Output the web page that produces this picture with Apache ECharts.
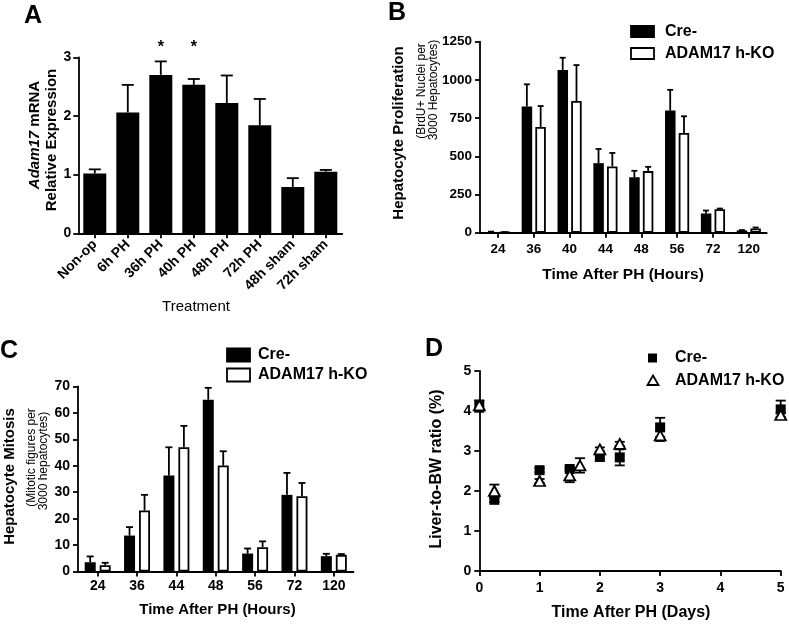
<!DOCTYPE html>
<html>
<head>
<meta charset="utf-8">
<script src="https://cdn.jsdelivr.net/npm/echarts@6/dist/echarts.min.js"></script>
<style>html,body{margin:0;padding:0;background:#fff}#c{width:789px;height:625px}</style>
</head>
<body>
<div id="c"></div>
<script>
// Panel A
const catsA = ['Non-op','6h PH','36h PH','40h PH','48h PH','72h PH','48h sham','72h sham'];
const meanA = [1.02,2.06,2.70,2.53,2.22,1.84,0.79,1.05];
const errTopA = [1.09,2.53,2.93,2.63,2.69,2.29,0.94,1.08];
const starA = ['','','*','*','','','',''];
const ticksA = [0,1,2,3];
// Panel B
const catsB = ['24','36','40','44','48','56','72','120'];
const creB = [5,826,1065,455,363,800,126,15];
const creBTop = [7,971,1145,548,405,935,145,17];
const koB = [3,692,862,434,403,652,154,28];
const koBTop = [4,829,1097,522,431,762,158,34];
// Panel C
const catsC = ['24','36','44','48','56','72','120'];
const creC = [3.5,13.6,36.3,65.0,6.8,29.0,5.8];
const creCTop = [5.7,16.8,47.0,69.5,8.7,37.3,6.7];
const koC = [2.4,23.1,47.0,40.1,9.2,28.5,6.3];
const koCTop = [3.3,29.0,55.1,45.5,11.4,33.5,6.6];
// Panel D
const daysCre = [0,0.25,1,1.5,2,2.33,3,5];
const creD = [4.12,1.78,2.52,2.55,2.86,2.84,3.59,4.04];
const creDErr = [0.14,0.05,0.05,0.05,0.11,0.2,0.24,0.22];
const daysKO = [0,0.25,1,1.5,1.67,2,2.33,3,5];
const koD = [4.14,2.0,2.25,2.39,2.64,3.04,3.18,3.39,3.9];
const koDErr = [0.12,0.16,0.05,0.17,0.18,0.05,0.05,0.14,0.05];

const FF = '"Liberation Sans", Arial, Helvetica, sans-serif';
const LW = 1.8;

function lbl(size, extra) {
  return Object.assign({color:'#000', fontFamily:FF, fontWeight:'bold', fontSize:size}, extra||{});
}
function catX(grid, data, size, extra) {
  return {type:'category', gridIndex:grid, data:data,
    axisLine:{show:true, lineStyle:{color:'#000', width:LW}},
    axisTick:{show:true, alignWithLabel:true, length:5, lineStyle:{color:'#000', width:LW}},
    axisLabel:lbl(size, Object.assign({interval:0}, extra||{})),
    splitLine:{show:false}};
}
function valAxis(grid, min, max, interval, size, margin) {
  return {type:'value', gridIndex:grid, min:min, max:max, interval:interval,
    axisLine:{show:true, onZero:false, lineStyle:{color:'#000', width:LW}},
    axisTick:{show:true, length:5, lineStyle:{color:'#000', width:LW}},
    axisLabel:lbl(size, {margin:margin, formatter:(v)=>String(v)}),
    splitLine:{show:false}};
}
function upErr(gi, means, tops, offset, cap) {
  return {type:'custom', xAxisIndex:gi, yAxisIndex:gi, z:5,
    data: means.map((m,i)=>[i, m, tops[i]]),
    renderItem:(params, api)=>{
      const p0 = api.coord([api.value(0), api.value(1)]);
      const p1 = api.coord([api.value(0), api.value(2)]);
      const cx = p0[0] + offset;
      return {type:'group', children:[
        {type:'line', shape:{x1:cx, y1:p0[1], x2:cx, y2:p1[1]}, style:{stroke:'#000', lineWidth:LW}},
        {type:'line', shape:{x1:cx-cap/2, y1:p1[1], x2:cx+cap/2, y2:p1[1]}, style:{stroke:'#000', lineWidth:LW}}
      ]};
    }};
}
function symErr(gi, xs, means, errs, cap) {
  return {type:'custom', xAxisIndex:gi, yAxisIndex:gi, z:2,
    data: means.map((m,i)=>[xs[i], m, errs[i]]),
    renderItem:(params, api)=>{
      const x = api.value(0), m = api.value(1), e = api.value(2);
      const pt = api.coord([x, m+e]), pb = api.coord([x, m-e]);
      const cx = pt[0];
      const st = {stroke:'#000', lineWidth:LW};
      return {type:'group', children:[
        {type:'line', shape:{x1:cx, y1:pt[1], x2:cx, y2:pb[1]}, style:st},
        {type:'line', shape:{x1:cx-cap/2, y1:pt[1], x2:cx+cap/2, y2:pt[1]}, style:st},
        {type:'line', shape:{x1:cx-cap/2, y1:pb[1], x2:cx+cap/2, y2:pb[1]}, style:st}
      ]};
    }};
}
function txt(x, y, text, size, weight, rot, extra) {
  const st = Object.assign({text:text, fontFamily:FF, fontSize:size, fontWeight:weight||'normal', fill:'#000',
    align:'center', verticalAlign:'middle', textAlign:'center', textVerticalAlign:'middle'}, extra||{});
  return {type:'text', x:x, y:y, rotation:rot||0, style:st, z:10};
}
function ltxt(x, y, text, size) {
  return txt(x, y, text, size, 'bold', 0, {align:'left', textAlign:'left'});
}
function rect(x, y, w, h, fill) {
  return {type:'rect', shape:{x:x, y:y, width:w, height:h}, style:{fill:fill, stroke:'#000', lineWidth:LW}, z:10};
}
const R = Math.PI/2;

const option = {
  animation:false,
  backgroundColor:'#fff',
  grid:[
    {left:78.3, top:57.3, width:264, height:176},
    {left:480, top:41.7, width:286.7, height:191},
    {left:78, top:386.5, width:275.5, height:185},
    {left:479.3, top:371, width:301.4, height:200}
  ],
  xAxis:[
    catX(0, catsA, 14, {rotate:45, margin:9}),
    catX(1, catsB, 13.5, {margin:10}),
    catX(2, catsC, 14, {margin:8}),
    valAxis(3, 0, 5, 1, 14, 10)
  ],
  yAxis:[
    valAxis(0, ticksA[0], ticksA[ticksA.length-1], 1, 14, 7),
    valAxis(1, 0, 1250, 250, 13.5, 8),
    valAxis(2, 0, 70, 10, 14, 8),
    valAxis(3, 0, 5, 1, 14, 8)
  ],
  series:[
    {type:'bar', name:'A', xAxisIndex:0, yAxisIndex:0, data:meanA, barWidth:23,
      itemStyle:{color:'#000'}, z:3},
    upErr(0, meanA, errTopA, 0, 12),
    {type:'custom', xAxisIndex:0, yAxisIndex:0, z:6, clip:false,
      data: errTopA.map((t,i)=>[i, 3.17, starA[i]]),
      renderItem:(params, api)=>{
        const i = params.dataIndex;
        if (!starA[i]) return null;
        const p = api.coord([api.value(0), api.value(1)]);
        return {type:'text', x:p[0], y:p[1], style:{text:starA[i], fontFamily:FF, fontSize:16, fontWeight:'bold', fill:'#000',
          align:'center', verticalAlign:'middle', textAlign:'center', textVerticalAlign:'middle'}};
      }},
    {type:'bar', name:'Cre-', xAxisIndex:1, yAxisIndex:1, data:creB, barWidth:10.5, barGap:'30%',
      itemStyle:{color:'#000', borderColor:'#000', borderWidth:0}, z:3},
    {type:'bar', name:'ADAM17 h-KO', xAxisIndex:1, yAxisIndex:1, data:koB, barWidth:10.5, barGap:'30%',
      itemStyle:{color:'#fff', borderColor:'#000', borderWidth:LW}, z:3},
    upErr(1, creB, creBTop, -6.9, 6),
    upErr(1, koB, koBTop, 6.9, 6),
    {type:'bar', name:'Cre-', xAxisIndex:2, yAxisIndex:2, data:creC, barWidth:11, barGap:'36%',
      itemStyle:{color:'#000'}, z:3},
    {type:'bar', name:'ADAM17 h-KO', xAxisIndex:2, yAxisIndex:2, data:koC, barWidth:11, barGap:'36%',
      itemStyle:{color:'#fff', borderColor:'#000', borderWidth:LW}, z:3},
    upErr(2, creC, creCTop, -7.5, 7),
    upErr(2, koC, koCTop, 7.5, 7),
    symErr(3, daysCre, creD, creDErr, 10),
    symErr(3, daysKO, koD, koDErr, 10),
    {type:'scatter', name:'Cre-', xAxisIndex:3, yAxisIndex:3, symbol:'rect', symbolSize:10, z:3, clip:false,
      data: daysCre.map((d,i)=>[d, creD[i]]), itemStyle:{color:'#000', opacity:1}},
    {type:'scatter', name:'ADAM17 h-KO', xAxisIndex:3, yAxisIndex:3, symbol:'triangle', symbolSize:[11,10], z:4, clip:false,
      data: daysKO.map((d,i)=>[d, koD[i]]), itemStyle:{color:'#fff', borderColor:'#000', borderWidth:LW, opacity:1}}
  ],
  graphic:[
    // panel letters
    txt(33, 16, 'A', 25, 'bold'),
    txt(397, 13, 'B', 25, 'bold'),
    txt(9, 351, 'C', 25, 'bold'),
    txt(434, 349, 'D', 25, 'bold'),
    // Panel A titles
    txt(35, 135, '{i|Adam17}{n| mRNA}', 15, 'bold', R, {rich:{
      i:{fontStyle:'italic', fontWeight:'bold', fontSize:15, fontFamily:FF, fill:'#000'},
      n:{fontWeight:'bold', fontSize:15, fontFamily:FF, fill:'#000'}}}),
    txt(52, 140, 'Relative Expression', 15, 'bold', R),
    txt(196, 307, 'Treatment', 15, 'normal'),
    // Panel B titles
    txt(399, 133, 'Hepatocyte Proliferation', 15, 'bold', R),
    txt(422, 91, '(BrdU+ Nuclei per', 12, 'normal', R),
    txt(434, 90, '3000 Hepatocytes)', 12, 'normal', R),
    txt(623, 275, 'Time After PH (Hours)', 15.5, 'bold'),
    // Panel B legend
    rect(631, 26, 23, 11, '#000'),
    rect(631, 48, 23, 11, '#fff'),
    ltxt(665, 31.5, 'Cre-', 16),
    ltxt(665, 53.5, 'ADAM17 h-KO', 16),
    // Panel C titles
    txt(10, 476.5, 'Hepatocyte Mitosis', 15, 'bold', R),
    txt(31.5, 457.5, '(Mitotic figures per', 12, 'normal', R),
    txt(43.5, 461, '3000 hepatocytes)', 12, 'normal', R),
    txt(217.5, 610, 'Time After PH (Hours)', 15, 'bold'),
    // Panel C legend
    rect(227, 348.5, 23, 13, '#000'),
    rect(227, 368.5, 23, 13, '#fff'),
    ltxt(258, 355, 'Cre-', 16),
    ltxt(258, 375, 'ADAM17 h-KO', 16),
    // Panel D titles
    txt(437, 469, 'Liver-to-BW ratio (%)', 16, 'bold', R),
    txt(631, 613, 'Time After PH (Days)', 16, 'bold'),
    // Panel D legend
    {type:'rect', shape:{x:648, y:353.5, width:9, height:9}, style:{fill:'#000'}, z:10},
    {type:'polygon', shape:{points:[[653,375.5],[658.5,385],[647.5,385]]}, style:{fill:'#fff', stroke:'#000', lineWidth:LW}, z:10},
    ltxt(675, 358, 'Cre-', 16),
    ltxt(675, 380.5, 'ADAM17 h-KO', 16)
  ]
};
const chart = echarts.init(document.getElementById('c'), null, {renderer:'canvas'});
chart.setOption(option);
</script>
</body>
</html>
